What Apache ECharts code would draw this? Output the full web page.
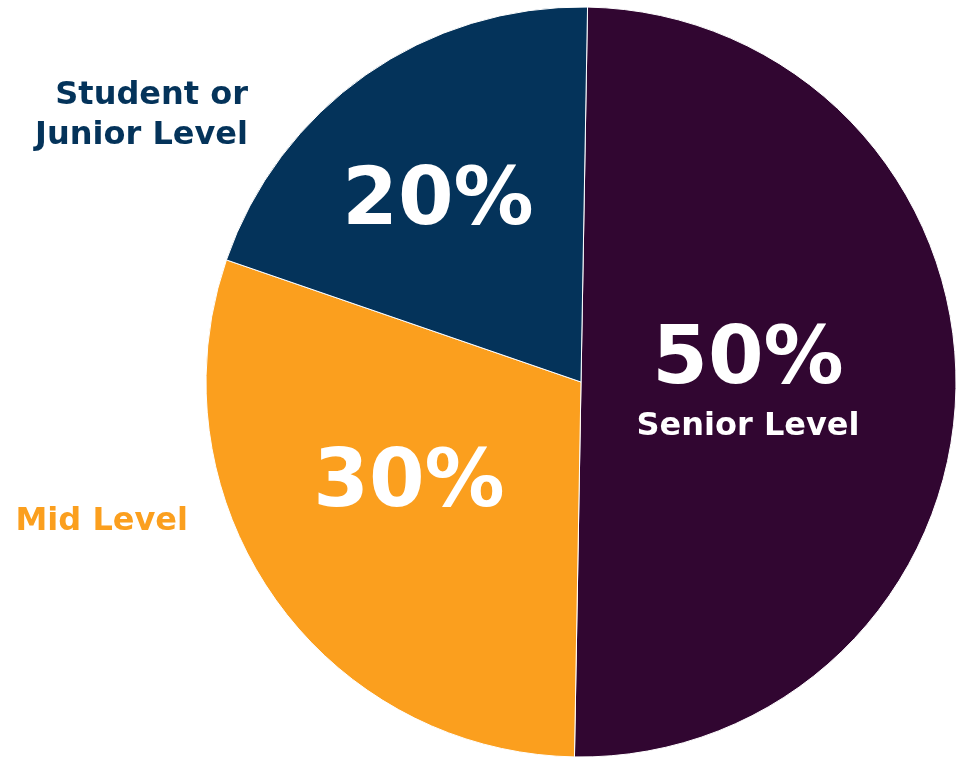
<!DOCTYPE html>
<html>
<head>
<meta charset="utf-8">
<script src="https://cdn.jsdelivr.net/npm/echarts@6/dist/echarts.min.js"></script>
<style>html,body{margin:0;padding:0;background:#fff;}#c{width:963px;height:759px;}</style>
</head>
<body>
<div id="c"></div>
<script>
// Data
const categories = ['Senior Level', 'Mid Level', 'Student or\nJunior Level'];
const values = [50, 30, 20];
const percentLabels = ['50%', '30%', '20%'];

// Styles (kept separate from data)
const colors = ['#310631', '#FB9F1E', '#04335A'];
const nameColors = ['#ffffff', '#FB9F1E', '#04335A'];
// label anchor positions (center of percent text), and name text anchors
const pctPos = [[748, 362], [409, 485], [438, 203]];
const namePos = [[748, 427, 'center'], [188, 522, 'right'], [248, 116, 'right']];

const chart = echarts.init(document.getElementById('c'), null, {renderer: 'canvas'});
const pieBase = {
  type: 'pie',
  center: [581, 382],
  radius: [0, 375],
  startAngle: 89,
  clockwise: true,
  avoidLabelOverlap: false,
  labelLine: {show: false}
};
const pctFont = '"DejaVu Sans", sans-serif';
const nameFont = '"DejaVu Sans", sans-serif';

chart.setOption({
  animation: false,
  backgroundColor: '#ffffff',
  series: [
    Object.assign({}, pieBase, {
      data: categories.map((c, i) => ({
        name: c, value: values[i],
        itemStyle: {color: colors[i], borderColor: '#ffffff', borderWidth: 1}
      })),
      label: {
        show: true, position: 'inside',
        formatter: p => percentLabels[p.dataIndex],
        color: '#ffffff', fontFamily: pctFont, fontWeight: 'bold', fontSize: 80,
        align: 'center', verticalAlign: 'middle'
      },
      labelLayout: p => ({x: pctPos[p.dataIndex][0], y: pctPos[p.dataIndex][1], align: 'center', verticalAlign: 'middle'})
    }),
    Object.assign({}, pieBase, {
      silent: true,
      data: categories.map((c, i) => ({
        name: c, value: values[i],
        itemStyle: {color: 'rgba(0,0,0,0)'},
        label: {color: nameColors[i], align: namePos[i][2]}
      })),
      label: {
        show: true, position: 'inside',
        formatter: '{b}',
        fontFamily: nameFont, fontWeight: 'bold', fontSize: 32, lineHeight: 40,
        verticalAlign: 'middle'
      },
      labelLayout: p => ({x: namePos[p.dataIndex][0], y: namePos[p.dataIndex][1], align: namePos[p.dataIndex][2], verticalAlign: 'middle'})
    })
  ]
});
</script>
</body>
</html>
